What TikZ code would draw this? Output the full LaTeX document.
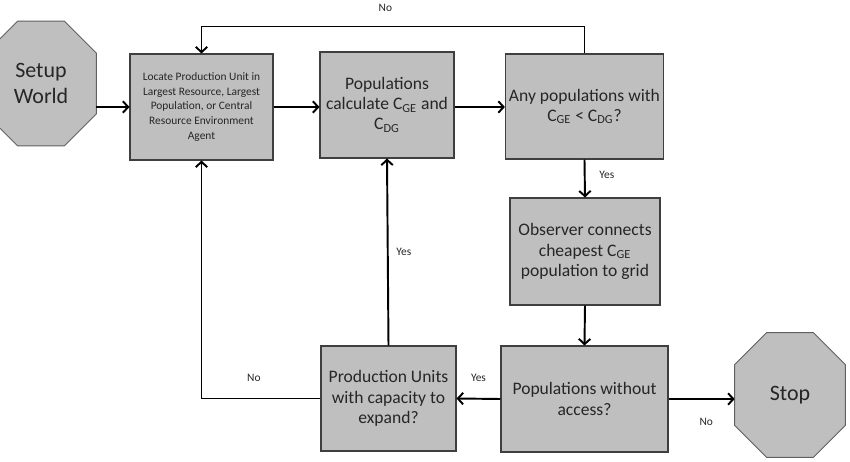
\documentclass[tikz,border=0pt]{standalone}
\usepackage{fontspec}
\setmainfont{Carlito}
\usepackage{tikz}
\usetikzlibrary{arrows.meta,backgrounds}
\definecolor{boxgray}{HTML}{BFBFBF}
\definecolor{edgegray}{HTML}{3F3F3F}
\definecolor{txtgray}{HTML}{262626}

\begin{document}
\begin{tikzpicture}[x=0.02cm, y=-0.02cm,
  box/.style={draw=edgegray, line width=0.6pt, fill=boxgray, minimum height=2.12cm, align=center, inner sep=2pt, text=txtgray, font=\fontsize{10}{11.5}\selectfont},
  oct/.style={minimum width=2.2cm, minimum height=2.48cm, align=center, inner sep=0pt, text=txtgray, font=\fontsize{12.5}{14.5}\selectfont},
  octline/.style={draw=gray!75!black, line width=0.5pt, fill=boxgray},
  arr/.style={-{Straight Barb[length=3pt, width=6.5pt]}, line width=1.1pt},
  lbl/.style={font=\fontsize{6.5}{7.5}\selectfont, text=txtgray}
]
  \useasboundingbox (0,0) rectangle (850,462);

  % start and end
  \node[oct] (setup) at (41,83.5) {Setup\\World};
  \node[oct] (stop)  at (790,395) {Stop};

  % octagon outlines behind the text
  \begin{scope}[on background layer]
    \foreach \n in {setup,stop}
      \draw[octline] ([xshift=0.64cm]\n.north west) -- ([xshift=-0.64cm]\n.north east)
        -- ([yshift=-0.64cm]\n.north east) -- ([yshift=0.64cm]\n.south east)
        -- ([xshift=-0.64cm]\n.south east) -- ([xshift=0.64cm]\n.south west)
        -- ([yshift=0.64cm]\n.south west) -- ([yshift=-0.64cm]\n.north west) -- cycle;
  \end{scope}

  % process boxes
  \node[box, minimum width=2.86cm, font=\fontsize{6.5}{8.3}\selectfont] (loc) at (201.5,107)
    {Locate Production Unit in\\Largest Resource, Largest\\Population, or Central\\Resource Environment\\Agent};
  \node[box, minimum width=2.68cm] (calc) at (387,105) {Populations\\calculate C\textsubscript{GE} and\\C\textsubscript{DG}};
  \node[box, minimum width=3.02cm, minimum height=2.10cm] (any) at (584.5,106.5) {Any populations with\\C\textsubscript{GE} < C\textsubscript{DG}?};
  \node[box, minimum width=3.00cm, minimum height=2.14cm] (obs) at (585,251.5) {Observer connects\\cheapest C\textsubscript{GE}\\population to grid};
  \node[box, minimum width=2.70cm, minimum height=2.10cm] (prod) at (388.5,398.5) {Production Units\\with capacity to\\expand?};
  \node[box, minimum width=3.34cm] (acc) at (584.5,399) {Populations without\\access?};

  % connectors
  \draw[arr] (setup.east |- loc.west) -- (loc.west);
  \draw[arr] (loc.east) -- (loc.east -| calc.west);
  \draw[arr] (calc.east |- loc.east) -- (loc.east -| any.west);
  \draw[arr] (any.north) -- ++(0,-27) -| node[lbl, pos=0.26, above=4.5pt] {No} (loc.north);
  \draw[arr] (any.south) -- node[lbl, pos=0.4, right=4.5pt] {Yes} (obs.north);
  \draw[arr] (obs.south) -- (acc.north);
  \draw[arr] (acc.west) -- node[lbl, above=5.7pt] {Yes} (prod.east);
  \draw[arr] (acc.east) -- node[lbl, pos=0.57, below=7pt] {No} (acc.east -| stop.west);
  \draw[arr] (prod.north) -- node[lbl, right=1pt] {Yes} (calc.south);
  \draw[arr] (prod.west) -| node[lbl, pos=0.28, above=5.7pt] {No} (loc.south);
\end{tikzpicture}
\end{document}
